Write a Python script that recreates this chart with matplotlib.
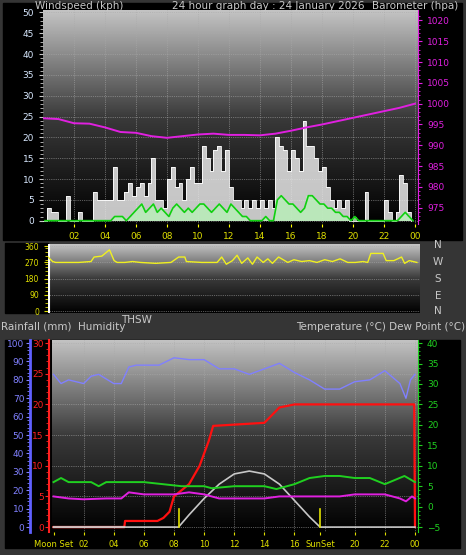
import numpy as np
import matplotlib
matplotlib.use("Agg")
import matplotlib.pyplot as plt
from matplotlib.colors import LinearSegmentedColormap
from matplotlib.patches import Rectangle

# ---------------- data ----------------
gust_q = [0,3,2,2, 0,0,6,0, 0,2,0,0, 0,7,5,5, 5,5,13,5, 5,7,9,6, 8,9,6,9, 15,5,5,3,
          10,13,8,9, 5,10,13,9, 9,18,15,12, 17,18,12,17, 8,5,5,3, 5,3,5,3, 5,3,5,3,
          20,18,17,12, 17,15,12,24, 18,18,15,12, 13,8,5,3, 5,3,5,0, 0,0,0,7, 0,0,0,0,
          5,2,0,2, 11,9,2,0]
avg_q = [0,0,0,0, 0,0,0,0, 0,0,0,0, 0,0,0,0, 0,0,1,1, 1,0,1,2, 3,4,2,3, 4,2,3,2,
         1,3,4,3, 2,3,2,3, 4,4,3,2, 3,4,3,2, 4,3,2,1, 1,0,0,0, 0,1,0,0,
         5,6,5,4, 4,3,2,3, 6,6,5,4, 4,3,3,2, 2,1,1,0, 1,0,0,0, 0,0,0,0,
         0,0,0,0, 1,2,1,0]
baro_h = [996.5,996.3,995.3,995.2,994.3,993.2,993.0,992.2,991.8,992.2,992.6,992.8,992.5,
          992.5,992.4,992.8,993.5,994.3,995.0,995.8,996.6,997.4,998.2,999.0,1000.0]
dir_hours = [0,0.3,0.5,1,2,2.8,3,3.5,4,4.3,4.5,5,5.5,6,7,8,8.5,8.9,9,10,11,11.3,11.6,12,12.3,12.6,
             13,13.3,13.6,14,14.3,14.6,15,15.3,15.6,16,16.5,17,17.5,18,18.5,19,19.5,20,20.5,
             20.8,21,21.8,22,22.5,23,23.2,23.5,24]
dir_vals = [300,275,270,270,270,275,300,305,340,280,270,270,275,270,265,270,300,300,275,270,270,
            300,260,280,310,265,295,260,300,270,290,265,300,285,270,285,275,280,270,285,275,290,
            270,270,275,270,320,320,280,280,300,265,280,270]
hum_h = [0,0.5,1,1.5,2,2.5,3,4,4.5,5,5.5,6,7,8,9,10,11,12,13,14,15,16,17,18,19,20,21,22,23,23.4,23.7,24]
hum_v = [83,78,80,79,78,82,83,78,78,87,88,88,88,92,91,91,86,86,83,86,89,84,80,75,75,79,80,85,78,70,80,83]
rain_h = [0,4.7,4.75,6.9,7.3,7.7,8.0,9.0,9.7,10.3,10.6,14.0,15.0,16.0,23.95,24.0]
rain_v = [0,0,1,1,1.5,2.5,5,7,10,14,16.5,17,19.5,20,20,0]
temp_h = [0,0.5,1,2.5,3,3.5,6,8.5,9,10,10.5,12,14,14.8,16,17,18,19,20,21,22,23.3,24]
temp_v = [6,7,6,6,5,6,6,5,5,5,4.5,5,5,4.3,5.5,7,7.5,7.5,7,7,5.5,7.5,6]
dew_h = [0,1,2,3.5,4.5,5,6,7,8,9,10,11,14,15,19,20,22,23,23.4,23.8,24]
dew_v = [2.5,2,1.8,2,2,3.5,3,3,3,3.5,3,2,2,2.5,2.5,3,3,2,1.3,2.5,2]
thsw_h = [0,8.3,9,10,11,12,13,14,15,16,17,17.7,24]
thsw_v = [-5,-5,-2,2,5.5,8,8.7,8,5.5,1.5,-2.5,-5,-5]
sun_events = [8.3, 17.7]
hour_ticks = [2,4,6,8,10,12,14,16,18,20,22,24]
hour_labels = ['02','04','06','08','10','12','14','16','18','20','22','00']
bottom_tick_labels = ['Moon Set','02','04','06','08','10','12','14','16','SunSet','20','22','00']
bottom_ticks = [0,2,4,6,8,10,12,14,16,17.7,20,22,24]

W, H = 466, 555
fig = plt.figure(figsize=(W/100, H/100), dpi=100, facecolor='#353535')
def fx(x): return x / W
def fy(y): return 1 - y / H

# black panels
for (x0, y0, x1, y1) in [(3, 3, 462, 240), (5, 243, 48, 313), (5, 340, 460, 548)]:
    fig.patches.append(Rectangle((fx(x0), fy(y1)), fx(x1 - x0), (y1 - y0) / H,
                                 transform=fig.transFigure, color='black', zorder=-10))

cmap = LinearSegmentedColormap.from_list('g', ['#000000', '#3a3a3a', '#c4c4c4'])
grad = np.linspace(0, 1, 256).reshape(-1, 1)
TXT = '#c8c8c8'

def setup(ax):
    ax.set_facecolor('black')
    ax.imshow(grad, aspect='auto', cmap=cmap, origin='lower', extent=[0, 1, 0, 1],
              transform=ax.transAxes, zorder=0)
    for s in ax.spines.values():
        s.set_visible(False)
    ax.set_xlim(0, 24.2)

def add_ax(x0, y0, x1, y1):
    return fig.add_axes([fx(x0), fy(y1), fx(x1 - x0), (y1 - y0) / H])

# ---------------- top panel ----------------
ax1 = add_ax(43, 10, 418, 224)
setup(ax1)
ax1.set_ylim(-0.8, 50.6)
t = np.arange(96) * 0.25
ax1.fill_between(t, gust_q, step='post', color='#e8e8e8', alpha=0.85, zorder=2, lw=0)
ax1.step(t, gust_q, where='post', color='white', lw=0.6, zorder=3)
ax1.fill_between(t, avg_q, step='post', color='#b8f0b8', alpha=0.8, zorder=3, lw=0)
ax1.plot(t + 0.125, avg_q, color='#10d010', lw=1.2, zorder=4)
for yv in range(0, 51, 5):
    ax1.axhline(yv, color='#aaaaaa', lw=0.5, ls=':', zorder=1)
for xv in hour_ticks:
    ax1.axvline(xv, color='#aaaaaa', lw=0.5, ls=':', zorder=1)
ax1.set_yticks(range(0, 51, 5))
ax1.set_yticks(range(0, 51, 1), minor=True)
ax1.tick_params(axis='y', colors='#c8c8c8', labelsize=6.5, length=3, labelcolor='#d8e8ff')
ax1.tick_params(axis='y', which='minor', colors='#c8c8c8', length=2)
ax1.set_xticks(hour_ticks)
ax1.set_xticklabels(hour_labels)
ax1.tick_params(axis='x', colors='yellow', labelsize=6.5, length=2, labelcolor='#e0e000')
ax1b = ax1.twinx()
ax1b.set_ylim(971.9 - 0.8 * 1.0, 1021.9 + 0.6)
ax1b.plot(np.arange(25), baro_h, color='#e020e0', lw=1.4, zorder=5)
for s in ax1b.spines.values():
    s.set_visible(False)
ax1b.spines['right'].set_visible(True)
ax1b.spines['right'].set_color('#e020e0')
ax1b.set_yticks(range(975, 1021, 5))
ax1b.set_yticks(range(972, 1022, 1), minor=True)
ax1b.tick_params(axis='y', colors='#e020e0', labelsize=6.5, length=3)
ax1b.tick_params(axis='y', which='minor', colors='#e020e0', length=1.5)
fig.text(fx(35), fy(6), 'Windspeed (kph)', color=TXT, fontsize=7.5, va='center')
fig.text(fx(172), fy(6), '24 hour graph day : 24 January 2026', color=TXT, fontsize=7.5, va='center')
fig.text(fx(372), fy(6), 'Barometer (hpa)', color=TXT, fontsize=7.5, va='center')

# ---------------- middle panel ----------------
ax2 = add_ax(48, 244, 420, 313)
setup(ax2)
ax2.set_ylim(-10, 372)
ax2.plot(dir_hours, dir_vals, color='#f0f020', lw=1.0, zorder=3)
for yv in [0, 90, 180, 270, 360]:
    ax2.axhline(yv, color='#aaaaaa', lw=0.5, ls=':', zorder=1)
ax2.set_yticks([0, 90, 180, 270, 360])
ax2.set_yticks(range(0, 361, 22), minor=True)
ax2.tick_params(axis='y', colors='#e0e000', labelsize=5.5, length=3)
ax2.tick_params(axis='y', which='minor', colors='#e0e000', length=2)
ax2.set_xticks([])
ax2.axvline(0.05, color='white', lw=1.5)
for lab, y in zip(['N', 'W', 'S', 'E', 'N'], [245, 262, 279, 296, 311]):
    fig.text(fx(438), fy(y), lab, color=TXT, fontsize=7.5, ha='center', va='center')
fig.text(fx(1), fy(327), 'Rainfall (mm)  Humidity', color=TXT, fontsize=7.5, va='center')
fig.text(fx(121), fy(320), 'THSW', color=TXT, fontsize=7.5, va='center')
fig.text(fx(465), fy(327), 'Temperature (°C) Dew Point (°C)', color=TXT, fontsize=7.5,
         va='center', ha='right')

# ---------------- bottom panel ----------------
ax3 = add_ax(52, 340, 418, 532)
setup(ax3)
ax3.set_xlim(-0.1, 24.2)
ax3.set_ylim(-0.8, 30.5)
for yv in range(0, 31, 5):
    ax3.axhline(yv, color='#aaaaaa', lw=0.5, ls=':', zorder=1)
for xv in range(2, 25, 2):
    ax3.axvline(xv, color='#aaaaaa', lw=0.5, ls=':', zorder=1)
ax3.plot(rain_h, rain_v, color='#ff1010', lw=1.6, zorder=6)
ax3.plot([0, 4.7], [0, 0], color='#ff8080', lw=1.6, zorder=6)
ax3.spines['left'].set_visible(True)
ax3.spines['left'].set_color('#ff2020')
ax3.spines['left'].set_linewidth(1.5)
ax3.spines['left'].set_position(('outward', 2))
ax3.set_yticks(range(0, 31, 5))
ax3.set_yticks(range(0, 31, 1), minor=True)
ax3.tick_params(axis='y', colors='#ff2020', labelsize=6.5, length=3, pad=1)
ax3.tick_params(axis='y', which='minor', colors='#ff2020', length=2)
ax3.set_xticks(bottom_ticks)
ax3.set_xticklabels(bottom_tick_labels)
ax3.tick_params(axis='x', colors='#e0e000', labelsize=6, length=2)

axh = ax3.twinx()
axh.set_ylim(-0.8 * 100 / 30, 30.5 * 100 / 30)
axh.plot(hum_h, hum_v, color='#8080ff', lw=1.0, zorder=4)
for s in axh.spines.values():
    s.set_visible(False)
axh.spines['left'].set_visible(True)
axh.spines['left'].set_color('#6060ff')
axh.spines['left'].set_linewidth(2)
axh.spines['left'].set_position(('outward', 16))
axh.yaxis.set_ticks_position('left')
axh.yaxis.set_label_position('left')
axh.set_yticks(range(0, 101, 10))
axh.set_yticks(range(0, 101, 2), minor=True)
axh.tick_params(axis='y', colors='#8080ff', labelsize=6.5, length=3, pad=1)
axh.tick_params(axis='y', which='minor', colors='#8080ff', length=2)

axt = ax3.twinx()
axt.set_ylim(-5 - 0.8 * 1.5, -5 + 30.5 * 1.5)
axt.plot(temp_h, temp_v, color='#20d020', lw=1.4, zorder=5)
axt.plot(dew_h, dew_v, color='#e020e0', lw=1.4, zorder=5)
axt.plot(thsw_h, thsw_v, color='#c8c8c8', lw=1.2, zorder=4)
for se in sun_events:
    axt.plot([se, se], [-5, -0.5], color='#e0e000', lw=1.2, zorder=6)
for s in axt.spines.values():
    s.set_visible(False)
axt.spines['right'].set_visible(True)
axt.spines['right'].set_color('#20d020')
axt.set_yticks(range(-5, 41, 5))
axt.set_yticks(range(-5, 41, 1), minor=True)
axt.tick_params(axis='y', colors='#20d020', labelsize=6.5, length=3)
axt.tick_params(axis='y', which='minor', colors='#20d020', length=1.5)

fig.savefig('out.png', dpi=100, facecolor=fig.get_facecolor())
